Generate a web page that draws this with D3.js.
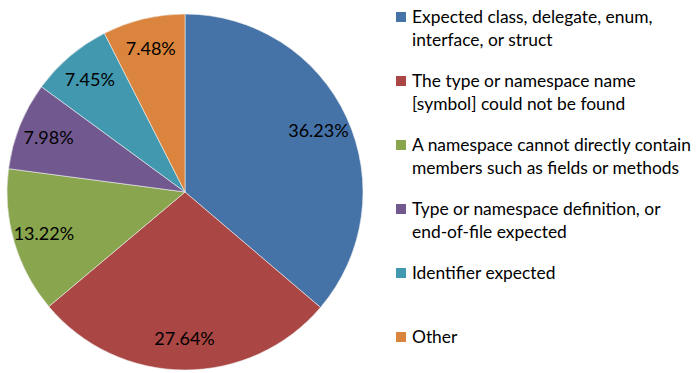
<!DOCTYPE html>
<html lang="en">
<head>
    <meta charset="UTF-8">
    <title>Compiler errors</title>
    <script src="https://d3js.org/d3.v7.min.js"></script>
    <style>
        body { margin: 0; background: #fff; }
        text { font-family: Lato, "Liberation Sans", sans-serif; fill: #000; }
    </style>
</head>
<body>
<div style="width: 697px;height: 373px" id="figure"></div>
<script>
    // data
    let categories = [
        "Expected class, delegate, enum, interface, or struct",
        "The type or namespace name [symbol] could not be found",
        "A namespace cannot directly contain members such as fields or methods",
        "Type or namespace definition, or end-of-file expected",
        "Identifier expected",
        "Other"
    ];
    let legendLines = [
        ["Expected class, delegate, enum,", "interface, or struct"],
        ["The type or namespace name", "[symbol] could not be found"],
        ["A namespace cannot directly contain", "members such as fields or methods"],
        ["Type or namespace definition, or", "end-of-file expected"],
        ["Identifier expected"],
        ["Other"]
    ];
    let values = [36.23, 27.64, 13.22, 7.98, 7.45, 7.48];
    let colors = ["#4572A7", "#AA4643", "#89A54E", "#71588F", "#4198AF", "#DB843D"];

    let figure = document.getElementById("figure");
    let w = figure.clientWidth;
    let h = figure.clientHeight;
    let cx = 185, cy = 192, radius = 178;
    let labelRadius = 147;
    let fontSize = 17.4;

    let svg = d3.select(figure).append("svg")
        .attr("width", w)
        .attr("height", h);

    let color = d3.scaleOrdinal().domain(categories).range(colors);

    let pie = d3.pie().sort(null).value(d => d.value);
    let arcs = pie(categories.map((c, i) => ({name: c, value: values[i]})));
    let arc = d3.arc().innerRadius(0).outerRadius(radius);
    let labelArc = d3.arc().innerRadius(labelRadius).outerRadius(labelRadius);

    let plot = svg.append("g").attr("transform", `translate(${cx},${cy})`);

    plot.selectAll("path")
        .data(arcs)
        .enter().append("path")
        .attr("d", arc)
        .style("fill", d => color(d.data.name))
        .style("stroke", "#f0f0f0")
        .style("stroke-width", 0.6);

    plot.selectAll("text")
        .data(arcs)
        .enter().append("text")
        .attr("transform", d => `translate(${labelArc.centroid(d)})`)
        .attr("text-anchor", "middle")
        .attr("dy", "0.35em")
        .style("font-size", "18px")
        .text(d => d.data.value.toFixed(2) + "%");

    // legend
    let legendX = 396, legendTop = 12, legendStep = 64, box = 10, lineH = 22.5;
    let legend = svg.append("g");
    let items = legend.selectAll("g")
        .data(categories)
        .enter().append("g")
        .attr("transform", (d, i) => `translate(${legendX},${legendTop + i * legendStep})`);

    items.append("rect")
        .attr("width", box)
        .attr("height", box)
        .style("fill", d => color(d));

    items.append("text")
        .attr("x", 16)
        .attr("y", 11)
        .style("font-size", fontSize + "px")
        .selectAll("tspan")
        .data((d, i) => legendLines[i])
        .enter().append("tspan")
        .attr("x", 16)
        .attr("dy", (d, j) => j === 0 ? 0 : lineH)
        .text(d => d);
</script>
</body>
</html>
